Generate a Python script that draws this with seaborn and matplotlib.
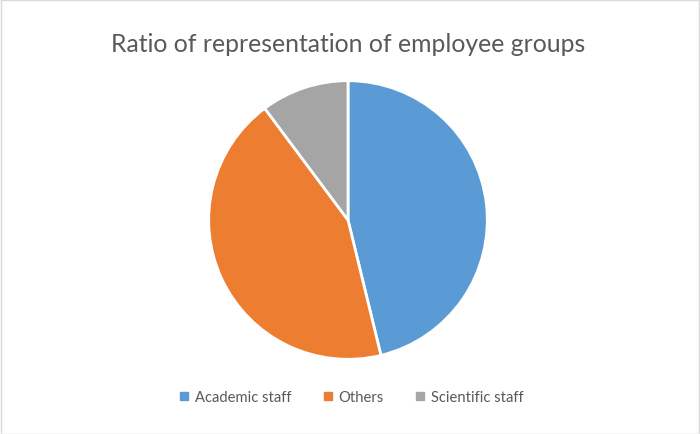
import matplotlib
matplotlib.use("Agg")
import matplotlib.pyplot as plt
import seaborn as sns
from matplotlib.lines import Line2D

categories = ["Academic staff", "Others", "Scientific staff"]
shares = [46.2, 43.6, 10.2]
colors = ["#5B9BD5", "#ED7D31", "#A5A5A5"]

sns.set_theme(style="white")
plt.rcParams["font.family"] = ["Lato", "DejaVu Sans"]

fig = plt.figure(figsize=(7, 4.35), dpi=100)
fig.patch.set_facecolor("white")

# pie centred at (348, 221) px, radius 140 px
ax = fig.add_axes([(348 - 140) / 700, 1 - (221 + 140) / 435, 280 / 700, 280 / 435])
ax.pie(shares, colors=colors, startangle=90, counterclock=False,
       wedgeprops={"edgecolor": "white", "linewidth": 2})
ax.set_xlim(-1.005, 1.005)
ax.set_ylim(-1.005, 1.005)
ax.set_aspect("equal")

fig.text(348 / 700, 1 - 44 / 435, "Ratio of representation of employee groups",
         ha="center", va="center", fontsize=17.8, color="#595959")

handles = [Line2D([0], [0], marker="s", linestyle="", markersize=6,
                  markerfacecolor=c, markeredgecolor=c) for c in colors]
fig.legend(handles, categories, loc="center", bbox_to_anchor=(350 / 700, 1 - 398 / 435),
           ncol=3, frameon=False, fontsize=10.6, labelcolor="#595959",
           handletextpad=0.2, columnspacing=2.0, handlelength=1.0)

# thin chart border
fig.add_artist(plt.Rectangle((0.5 / 700, 0.5 / 435), 1 - 1.5 / 700, 1 - 1.5 / 435,
                             transform=fig.transFigure, fill=False,
                             edgecolor="#D9D9D9", linewidth=1))

fig.savefig("out.png", dpi=100)
